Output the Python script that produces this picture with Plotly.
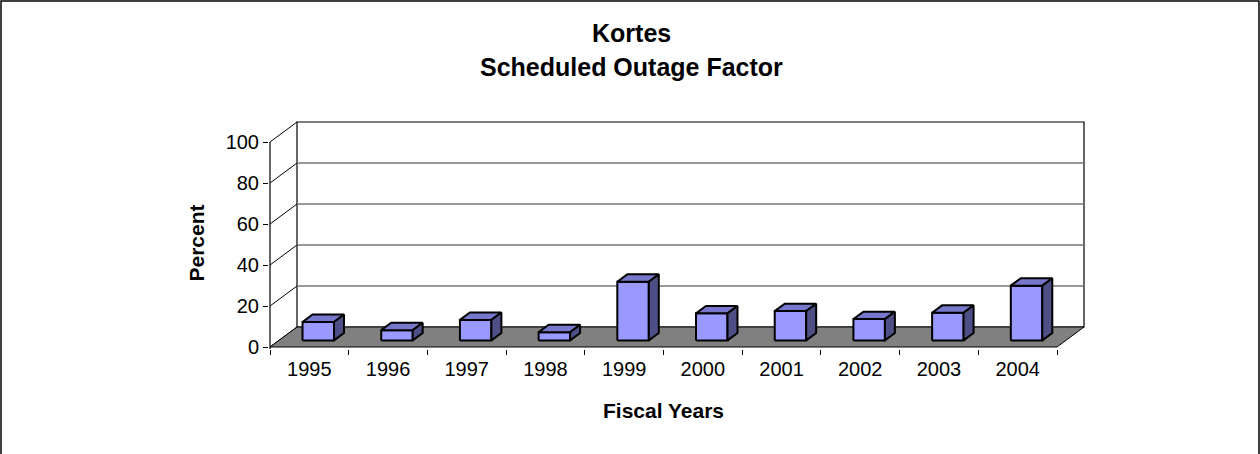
import plotly.graph_objects as go

# ---- data ----
years = ["1995", "1996", "1997", "1998", "1999", "2000", "2001", "2002", "2003", "2004"]
outage_pct = [9, 5, 10, 4, 28.6, 13.2, 14.3, 10.4, 13.5, 26.7]
y_ticks = [0, 20, 40, 60, 80, 100]
title_lines = ["Kortes", "Scheduled Outage Factor"]
x_title = "Fiscal Years"
y_title = "Percent"

# ---- geometry (pixel layout of the pseudo-3D plot) ----
W, H = 1260, 454
X0_PX, Y0_PX = 270, 347          # front-left corner of floor
CAT_PX, VAL_PX = 78.7, 2.05      # px per category, px per percent
DEPTH_DX_PX, DEPTH_DY_PX = 27, 20
PL, PR, PT, PB = 269, 1090, 118, 349   # plot area edges in px

DX = DEPTH_DX_PX / CAT_PX
DY = DEPTH_DY_PX / VAL_PX
F0, F1 = 0.33, 0.70              # bar depth span (fraction of depth)
BAR_L, BAR_R = 0.30, 0.70        # bar span inside a category

xr = [(PL - X0_PX) / CAT_PX, (PR - X0_PX) / CAT_PX]
yr = [(Y0_PX - PB) / VAL_PX, (Y0_PX - PT) / VAL_PX]
n = len(years)
vmax = y_ticks[-1]


def P(x, v, f):
    return x + f * DX, v + f * DY


def poly(points, fill, lw=2, lc="black"):
    xs = [p[0] for p in points] + [points[0][0]]
    ys = [p[1] for p in points] + [points[0][1]]
    return go.Scatter(x=xs, y=ys, mode="lines", fill="toself", fillcolor=fill,
                      line=dict(color=lc, width=lw), hoverinfo="skip", showlegend=False)


def seg(a, b, color="black", width=1):
    return go.Scatter(x=[a[0], b[0]], y=[a[1], b[1]], mode="lines",
                      line=dict(color=color, width=width), hoverinfo="skip", showlegend=False)


fig = go.Figure()

# back wall
fig.add_trace(poly([P(0, 0, 1), P(n, 0, 1), P(n, vmax, 1), P(0, vmax, 1)], "white", lw=1.2))
for v in y_ticks[1:-1]:
    fig.add_trace(seg(P(0, v, 1), P(n, v, 1), color="#777777", width=1.5))
# left wall gridlines
for v in y_ticks:
    fig.add_trace(seg(P(0, v, 0), P(0, v, 1), color="black", width=1))
# front vertical axis line
fig.add_trace(seg(P(0, yr[0] - 5, 0), P(0, vmax, 0), color="black", width=1.2))
# floor
fig.add_trace(poly([P(0, 0, 0), P(n, 0, 0), P(n, 0, 1), P(0, 0, 1)], "#808080", lw=1))

# bars
for i, v in enumerate(outage_pct):
    xl, xrr = i + BAR_L, i + BAR_R
    fig.add_trace(poly([P(xl, 0, F0), P(xrr, 0, F0), P(xrr, v, F0), P(xl, v, F0)], "#9999FF"))
    fig.add_trace(poly([P(xl, v, F0), P(xrr, v, F0), P(xrr, v, F1), P(xl, v, F1)], "#7777CC"))
    fig.add_trace(poly([P(xrr, 0, F0), P(xrr, 0, F1), P(xrr, v, F1), P(xrr, v, F0)], "#4F4F88"))

# category axis carrier (invisible)
fig.add_trace(go.Scatter(x=years, y=outage_pct, xaxis="x2", yaxis="y", mode="none",
                         hoverinfo="skip", showlegend=False))


def px_x(px):
    return (px - PL) / (PR - PL)


def px_y(py):
    return (PB - py) / (PB - PT)


FONT = "Arial, Liberation Sans, sans-serif"
ann = [
    dict(text="<b>%s</b>" % title_lines[0], x=px_x(631), y=px_y(33), font=dict(size=25)),
    dict(text="<b>%s</b>" % title_lines[1], x=px_x(631), y=px_y(67), font=dict(size=25)),
    dict(text="<b>%s</b>" % x_title, x=px_x(663), y=px_y(410), font=dict(size=21)),
    dict(text="<b>%s</b>" % y_title, x=px_x(196), y=px_y(243.5), font=dict(size=21), textangle=-90),
]
for a in ann:
    a.update(xref="paper", yref="paper", showarrow=False, xanchor="center", yanchor="middle")
    a["font"].update(family=FONT, color="black")

fig.update_layout(
    width=W, height=H, autosize=False,
    margin=dict(l=PL, r=W - PR, t=PT, b=H - PB, pad=0),
    paper_bgcolor="white", plot_bgcolor="rgba(0,0,0,0)",
    font=dict(family=FONT, color="black"),
    xaxis=dict(range=xr, visible=False, fixedrange=True),
    xaxis2=dict(overlaying="x", anchor="y", side="bottom", type="category",
                categoryorder="array", categoryarray=years,
                range=[xr[0] - 0.5, xr[1] - 0.5], tickson="boundaries",
                ticks="outside", ticklen=5, tickcolor="black", tickwidth=1,
                ticklabelstandoff=6,
                showgrid=False, zeroline=False, showline=False,
                tickfont=dict(size=20, family=FONT, color="black"), fixedrange=True),
    yaxis=dict(range=yr, tickvals=y_ticks, ticks="outside", ticklen=5, tickcolor="black",
               showgrid=False, zeroline=False, showline=False,
               tickfont=dict(size=20, family=FONT, color="black"), fixedrange=True),
    annotations=ann,
    shapes=[dict(type="rect", xref="paper", yref="paper",
                 x0=px_x(1), x1=px_x(1259), y0=px_y(470), y1=px_y(1),
                 line=dict(color="black", width=1.5), fillcolor="rgba(0,0,0,0)", layer="below")],
)

fig.write_html("out.html", config={"displayModeBar": False, "staticPlot": True},
               post_script="document.body.style.margin='0';document.body.style.overflow='hidden';")
